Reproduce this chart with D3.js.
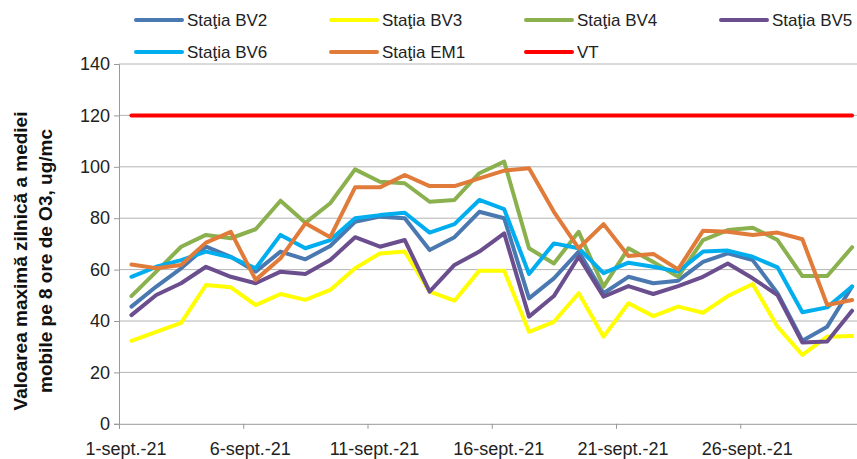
<!DOCTYPE html>
<html>
<head>
<meta charset="utf-8">
<script src="https://cdn.jsdelivr.net/npm/d3@7"></script>
<style>
  body { margin: 0; background: #fff; }
  text { font-family: Arial, "Liberation Sans", sans-serif; }
</style>
</head>
<body>
<svg width="857" height="459"></svg>
<script>
// zilele lunii septembrie 2021
const days = d3.range(1, 31);
const tickDays = [1, 6, 11, 16, 21, 26];
const tickLabels = ['1-sept.-21', '6-sept.-21', '11-sept.-21', '16-sept.-21', '21-sept.-21', '26-sept.-21'];
const yTicks = [0, 20, 40, 60, 80, 100, 120, 140];

const bv2 = [45.6, 53.4, 60.5, 68.9, 65, 59.2, 67, 64, 69.2, 78.6, 80.6, 80, 67.6, 72.6, 82.5, 80, 48.8, 56.6, 67, 50.8, 57.2, 54.7, 55.7, 63, 66.3, 63.7, 50.8, 32.3, 37.8, 53.4];
const bv3 = [32.3, 35.8, 39.3, 54, 53.1, 46.2, 50.5, 48.2, 52.1, 60.5, 66.3, 67, 51.4, 47.9, 59.6, 59.6, 35.8, 39.7, 50.8, 33.9, 46.9, 41.9, 45.6, 43.2, 49.7, 54.4, 37.8, 26.8, 33.9, 34.2];
const bv4 = [49.7, 59.2, 68.9, 73.5, 72.2, 75.7, 86.8, 78.2, 85.8, 99, 94.2, 93.6, 86.4, 87.1, 97.5, 102, 68.3, 62.4, 74.7, 53.4, 68.3, 63, 57.2, 71.5, 75.4, 76.3, 71.5, 57.5, 57.5, 68.7];
const bv5 = [42.3, 50.1, 54.7, 61.1, 57.2, 54.7, 59.2, 58.3, 63.7, 72.6, 68.9, 71.5, 51.4, 61.8, 67, 74.1, 41.7, 49.7, 65, 49.5, 53.6, 50.5, 53.6, 57.2, 62.4, 56.6, 50.1, 31.6, 32, 44];
const bv6 = [57.2, 61.1, 63.7, 67, 64.8, 60.5, 73.5, 68.3, 71.5, 80, 81.2, 82.1, 74.4, 77.7, 87.1, 83.5, 58.3, 70.2, 68.3, 58.6, 62.7, 61.1, 59.2, 67, 67.4, 65, 60.9, 43.4, 45.3, 53.4];
const em1 = [62, 60.5, 61.8, 70.5, 74.7, 56, 64.4, 78, 72.6, 92, 92, 96.8, 92.5, 92.5, 95.5, 98.5, 99.4, 82.5, 68.3, 77.7, 65.3, 66.1, 60.1, 75.1, 74.7, 73.5, 74.4, 71.8, 46.2, 48.2];
const vt = days.map(() => 120);

const seriesNames = ['Staţia BV2', 'Staţia BV3', 'Staţia BV4', 'Staţia BV5', 'Staţia BV6', 'Staţia EM1', 'VT'];
const seriesValues = [bv2, bv3, bv4, bv5, bv6, em1, vt];
const seriesColors = ['#4a78b0', '#ffff00', '#8bb04e', '#6a4e8e', '#00aeef', '#e07b39', '#ff0000'];

const svg = d3.select('svg');

// plot area
const plotLeft = 119, plotTop = 64, plotBottom = 423.8;
const step = 24.85;

const x = d3.scaleLinear().domain([0, 30]).range([plotLeft, plotLeft + 30 * step]);
const y = d3.scaleLinear().domain([0, 140]).range([plotBottom, plotTop]);

// gridlines
svg.append('g')
  .selectAll('line')
  .data(yTicks.filter(d => d > 0))
  .join('line')
    .attr('x1', plotLeft).attr('x2', 857)
    .attr('y1', d => y(d)).attr('y2', d => y(d))
    .attr('stroke', '#b4b4b4')
    .attr('stroke-width', 1);

// y axis
const yAxis = svg.append('g')
  .attr('transform', `translate(${plotLeft},0)`)
  .call(d3.axisLeft(y).tickValues(yTicks).tickSize(5).tickPadding(4));
yAxis.select('.domain').attr('stroke', '#999');
yAxis.selectAll('.tick line').attr('stroke', '#999');
yAxis.selectAll('.tick text')
  .attr('font-size', 18)
  .attr('fill', '#222')
  .attr('font-family', 'Arial, "Liberation Sans", sans-serif');

// x axis (ticks between categories)
const xAxis = svg.append('g')
  .attr('transform', `translate(0,${plotBottom})`)
  .call(d3.axisBottom(x).tickValues(d3.range(0, 31, 5)).tickSize(5).tickFormat(''));
xAxis.select('.domain').attr('stroke', '#999');
xAxis.selectAll('.tick line').attr('stroke', '#999');

svg.append('g')
  .selectAll('text')
  .data(tickDays)
  .join('text')
    .attr('x', (d, i) => x(d - 1) + 7)
    .attr('y', plotBottom + 31)
    .attr('text-anchor', 'middle')
    .attr('font-size', 18)
    .attr('fill', '#222')
    .text((d, i) => tickLabels[i]);

// lines
const line = d3.line()
  .x((d, i) => x(i + 0.5))
  .y(d => y(d));

svg.append('g')
  .selectAll('path')
  .data(seriesValues)
  .join('path')
    .attr('d', d => line(d))
    .attr('fill', 'none')
    .attr('stroke', (d, i) => seriesColors[i])
    .attr('stroke-width', 4)
    .attr('stroke-linejoin', 'round')
    .attr('stroke-linecap', 'round');

// legend
const legend = svg.append('g');
const legendItem = legend.selectAll('g')
  .data(seriesNames)
  .join('g')
    .attr('transform', (d, i) => `translate(${136 + (i % 4) * 195},${i < 4 ? 20 : 52})`);

legendItem.append('line')
  .attr('x1', 0).attr('x2', 46)
  .attr('stroke', (d, i) => seriesColors[i])
  .attr('stroke-width', 4)
  .attr('stroke-linecap', 'round');

legendItem.append('text')
  .attr('x', 51)
  .attr('y', 6)
  .attr('font-size', 17)
  .attr('fill', '#222')
  .text(d => d);

// y axis title
const title = svg.append('text')
  .attr('transform', 'translate(0,261) rotate(-90)')
  .attr('text-anchor', 'middle')
  .attr('font-size', 19)
  .attr('font-weight', 'bold')
  .attr('fill', '#111');
title.append('tspan').attr('x', 0).attr('y', 27).text('Valoarea maximă zilnică a mediei');
title.append('tspan').attr('x', 0).attr('y', 52).text('mobile pe 8 ore de O3, ug/mc');
</script>
</body>
</html>
